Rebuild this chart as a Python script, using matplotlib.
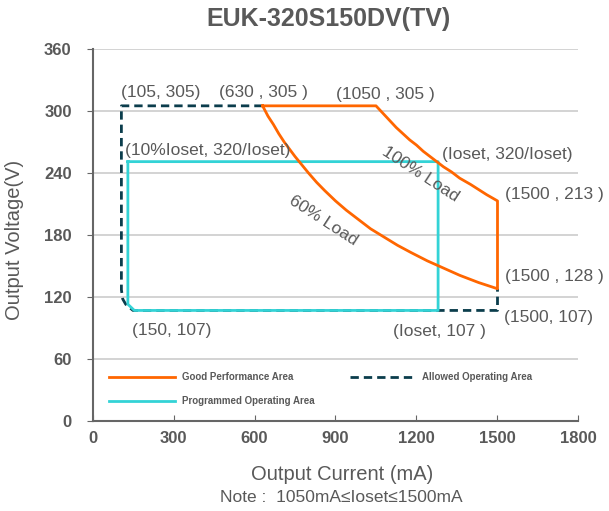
import matplotlib
matplotlib.use('Agg')
import matplotlib.pyplot as plt

plt.rcParams['font.family'] = ['Liberation Sans', 'DejaVu Sans']

# --- data ---
top_current = [630, 1050]
top_voltage = [305, 305]

load100_current = [1050, 1075, 1100, 1125, 1150, 1175, 1200, 1225, 1250, 1280,
                   1300, 1330, 1360, 1400, 1430, 1460, 1500]
load100_voltage = [305, 298, 291, 284, 278, 272, 267, 261, 256, 250,
                   246, 241, 235, 229, 224, 219, 213]

load60_current = [630, 650, 670, 690, 710, 730, 750, 775, 800, 830, 860, 900,
                  940, 980, 1030, 1080, 1130, 1180, 1240, 1300, 1360, 1430, 1500]
load60_voltage = [305, 295, 287, 278, 270, 263, 256, 248, 240, 231, 223, 213,
                  204, 196, 186, 178, 170, 163, 155, 148, 141, 134, 128]

allowed_current = [630, 107, 107, 112, 123, 150, 1500, 1500]
allowed_voltage = [305, 305, 127, 118, 113, 107, 107, 128]

programmed_current = [131, 1280, 1280, 155, 131, 131]
programmed_voltage = [251, 251, 107, 107, 113, 251]

y_ticks = [0, 60, 120, 180, 240, 300, 360]
x_ticks = [0, 300, 600, 900, 1200, 1500, 1800]

# (text, x, y, ha, rotation)
labels = [
    ("(105, 305)", 253, 317.5, "center", 0),
    ("(630 , 305 )", 632, 317.5, "center", 0),
    ("(1050 , 305 )", 1084, 315.6, "center", 0),
    ("(10%Ioset, 320/Ioset)", 120, 262, "left", 0),
    ("(Ioset, 320/Ioset)", 1295, 257.5, "left", 0),
    ("(1500 , 213 )", 1527, 218.8, "left", 0),
    ("(1500 , 128 )", 1527, 139.4, "left", 0),
    ("(1500, 107)", 1525, 99.7, "left", 0),
    ("(Ioset, 107 )", 1284, 87, "center", 0),
    ("(150, 107)", 292, 88, "center", 0),
    ("100% Load", 1213, 239, "center", -33),
    ("60% Load", 855, 193.6, "center", -33),
]

ORANGE = "#FF6600"
CYAN = "#33D3D6"
DARK = "#0B3D4C"
TEXT = "#595959"

fig = plt.figure(figsize=(6.09, 5.11), dpi=100)
ax = fig.add_axes([0.1519, 0.1761, 0.798, 0.728])

ax.set_xlim(0, 1800)
ax.set_ylim(0, 360)
ax.set_xticks(x_ticks)
ax.set_yticks(y_ticks)
ax.yaxis.grid(True, color="#D0D0D0", linewidth=1.3)
ax.set_axisbelow(True)
for s in ["top", "right"]:
    ax.spines[s].set_visible(False)
for s in ["left", "bottom"]:
    ax.spines[s].set_color("#666666")
    ax.spines[s].set_linewidth(1.5)
ax.tick_params(axis="x", direction="in", length=4, color="#666666", pad=7,
               labelsize=12, labelcolor=TEXT)
ax.tick_params(axis="y", direction="out", length=4, color="#666666", pad=11,
               labelsize=12, labelcolor=TEXT)
for lab in ax.get_xticklabels() + ax.get_yticklabels():
    lab.set_fontweight("bold")

# allowed operating area (dashed)
ax.plot(allowed_current, allowed_voltage, color=DARK, lw=2,
        linestyle=(0, (3, 1.8)), label="Allowed Operating Area", zorder=2)

# programmed area
ax.plot(programmed_current, programmed_voltage, color=CYAN, lw=2,
        label="Programmed Operating Area", zorder=3)

# good performance area
good_i = top_current + load100_current[1:] + load60_current[::-1]
good_v = top_voltage + load100_voltage[1:] + load60_voltage[::-1]
ax.plot(good_i, good_v, color=ORANGE, lw=2, label="Good Performance Area",
        zorder=4, solid_joinstyle="round")

for txt, x, y, ha, rot in labels:
    ax.text(x, y, txt, ha=ha, va="center", rotation=rot, fontsize=12.5,
            color=TEXT, rotation_mode="anchor", zorder=5)

h, l = ax.get_legend_handles_labels()
order = [2, 1, 0]
leg = ax.legend([h[i] for i in order], [l[i] for i in order], ncol=2,
                loc="upper left", bbox_to_anchor=(0.034, 0.131), frameon=False,
                borderpad=0, borderaxespad=0, handlelength=6.8, handletextpad=0.7,
                columnspacing=3.6, labelspacing=1.45,
                prop={"size": 7, "weight": "bold"})
for t in leg.get_texts():
    t.set_color(TEXT)

fig.text(329 / 609, 1 - 19 / 511, "EUK-320S150DV(TV)", ha="center", va="center",
         fontsize=18, fontweight="bold", color=TEXT)
fig.text(342 / 609, 1 - 474 / 511, "Output Current (mA)", ha="center", va="center",
         fontsize=14.5, color=TEXT)
fig.text(341 / 609, 1 - 497 / 511, "Note :  1050mA\u2264Ioset\u22641500mA", ha="center",
         va="center", fontsize=12.5, color=TEXT)
fig.text(15 / 609, 1 - 240 / 511, "Output Voltage(V)", ha="center", va="center",
         rotation=90, fontsize=14.5, color=TEXT)

fig.savefig("out.png", dpi=100, facecolor="white")
